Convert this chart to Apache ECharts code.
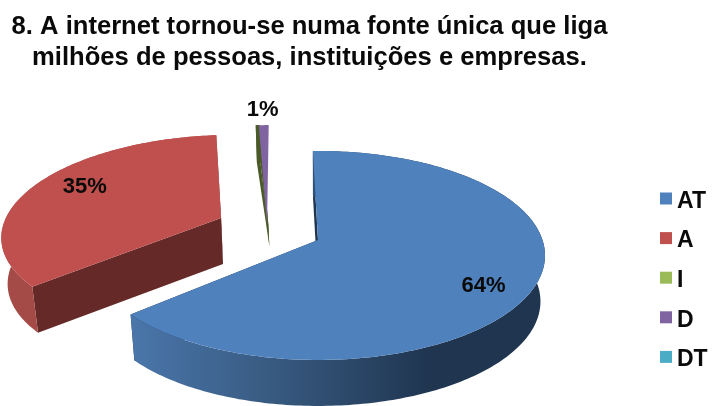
<!DOCTYPE html>
<html><head><meta charset="utf-8">
<style>html,body{margin:0;padding:0;background:#fff}#c{width:712px;height:406px}</style>
<script src="https://cdn.jsdelivr.net/npm/echarts@6/dist/echarts.min.js"></script>
</head><body><div id="c"></div>
<script>
// data
const categories = ['AT', 'A', 'I', 'D', 'DT'];
const values = [64, 35, 0.3, 0.7, 0];
const labels = ['64%', '35%', '', '1%', ''];
const titleLines = ['8. A internet tornou-se numa fonte única que liga', 'milhões de pessoas, instituições e empresas.'];

// styles and projection of the tilted pie
const topColors = ['#4F81BD', '#C0504D', '#4A5A28', '#8064A2', '#4BACC6'];
const legendColors = ['#4F81BD', '#C0504D', '#9BBB59', '#8064A2', '#4BACC6'];
const wallColors = ['#1F3550', '#652A28', '#4A5A28', null, null];
const rimColors = [null, '#A44A47', '#4A5A28', null, null];
const explodeOffsets = [[0, 0], [-0.446, 0.223], [-0.226, 0.15], [-0.232, 0.15], [0, 0]];
const radii = [1, 0.99, 1.2, 1.2, 1];
const depthOuter = [46, 46, 38, 0, 0];
const depthInner = [46, 46, 21, 0, 0];
const labelRadius = [0.76, 0.72, 0, 1.2, 0];
const labelShift = [[2, 13], [0, -6], [0, 0], [-1, -15], [0, 0]];
const startAngle = -1.5;
const proj = { cx: 318, cy: 240, a: 224.5, b: 102.2, k: 0.148, floorScale: 0.98 };

const total = values.reduce((s, v) => s + v, 0);
function sliceAngles(i) {
  let before = 0;
  for (let j = 0; j < i; j++) before += values[j];
  return [startAngle + before / total * 360, startAngle + (before + values[i]) / total * 360];
}
function project(u, v) {
  const d = 1 + proj.k * v;
  return [proj.cx + proj.a * u / d, proj.cy - proj.b * v / d];
}
function planePoint(i, deg, r) {
  const t = deg * Math.PI / 180;
  return project(explodeOffsets[i][0] + r * Math.sin(t), explodeOffsets[i][1] + r * Math.cos(t));
}
function drop(p, depth) {
  return [proj.cx + (p[0] - proj.cx) * (depth ? proj.floorScale : 1), p[1] + depth];
}
function poly(points, fill) {
  return { type: 'polygon', shape: { points: points }, silent: true,
           style: { fill: fill, stroke: null } };
}
function renderSlice(params, api) {
  const i = params.seriesIndex;
  const value = api.value(0);
  if (!value) return null;
  const [a0, a1] = sliceAngles(i);
  const apex = planePoint(i, a0, 0);
  const arc = [];
  const steps = Math.max(2, Math.ceil(a1 - a0));
  for (let s = 0; s <= steps; s++) arc.push(planePoint(i, a0 + (a1 - a0) * s / steps, radii[i]));
  const children = [];
  const dO = depthOuter[i], dI = depthInner[i];
  if (wallColors[i]) {
    const first = arc[0], last = arc[arc.length - 1];
    children.push(poly([apex, last, drop(last, dO), drop(apex, dI)], wallColors[i]));
    children.push(poly([apex, first, drop(first, dO), drop(apex, dI)], wallColors[i]));
  }
  if (dO) {
    const rimFill = rimColors[i] || {
      type: 'linear', x: 133, y: 0, x2: 545, y2: 0, global: true,
      colorStops: [{ offset: 0, color: '#4A76AA' }, { offset: 0.35, color: '#37597F' },
                   { offset: 0.72, color: '#1F3550' }, { offset: 1, color: '#1F3550' }]
    };
    children.push(poly(arc.concat(arc.map(p => drop(p, dO)).reverse()), rimFill));
  }
  children.push(poly([apex].concat(arc), topColors[i]));
  if (labels[i]) {
    const lp = planePoint(i, (a0 + a1) / 2, labelRadius[i]);
    children.push({
      type: 'text', silent: true, z2: 100,
      style: { x: lp[0] + labelShift[i][0], y: lp[1] + labelShift[i][1], text: labels[i],
               align: 'center', verticalAlign: 'middle', fill: '#0a0a0a',
               font: 'bold 22px "Liberation Sans"' }
    });
  }
  return { type: 'group', children: children };
}

const chart = echarts.init(document.getElementById('c'), null, { renderer: 'canvas' });
chart.setOption({
  animation: false,
  backgroundColor: '#ffffff',
  title: {
    text: titleLines.join('\n'), left: 304.5, top: 6, textAlign: 'center',
    textStyle: { fontFamily: 'Liberation Sans', fontWeight: 'bold', fontSize: 25.6, lineHeight: 31, color: '#0a0a0a' }
  },
  legend: {
    data: categories, orient: 'vertical', left: 660, top: 190, icon: 'rect',
    itemWidth: 12, itemHeight: 12, itemGap: 16.6, itemStyle: { borderWidth: 0 },
    textStyle: { rich: { t: { fontFamily: 'Liberation Sans', fontWeight: 'bold', fontSize: 23, color: '#0a0a0a', lineHeight: 29, verticalAlign: 'bottom' } } },
    formatter: n => '{t|' + n + '}', selectedMode: false, padding: 0
  },
  series: categories.map((name, i) => ({
    type: 'custom', name: name, coordinateSystem: 'none', clip: false,
    itemStyle: { color: legendColors[i] },
    z: i === 3 ? 3 : 2,
    renderItem: renderSlice,
    data: [[values[i]]]
  }))
});
</script></body></html>
